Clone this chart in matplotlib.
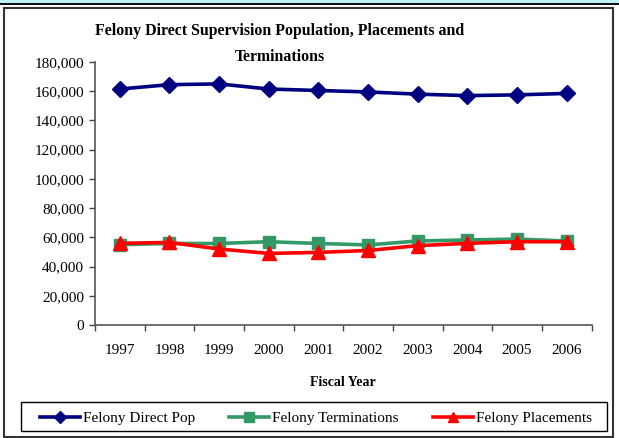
import matplotlib
matplotlib.use('Agg')
import matplotlib.pyplot as plt
from matplotlib.patches import Rectangle
from matplotlib.ticker import FuncFormatter
import numpy as np

plt.rcParams['font.family'] = ['Liberation Serif', 'DejaVu Serif']

years = ['1997', '1998', '1999', '2000', '2001', '2002', '2003', '2004', '2005', '2006']
direct_pop = [161500, 164500, 165000, 161500, 160500, 159500, 158000, 157000, 157500, 158500]
terminations = [55000, 55800, 55800, 57000, 55800, 54800, 57500, 58200, 58800, 57500]
placements = [55900, 56500, 52000, 49000, 49700, 51000, 54300, 55900, 57000, 57000]

W, H = 619, 438
fig = plt.figure(figsize=(W / 100, H / 100), dpi=100)
ax = fig.add_axes([95 / W, 1 - 325 / H, (591.5 - 95) / W, (325 - 62) / H])

x = np.arange(len(years))
ax.plot(x, direct_pop, color='#000080', lw=2.6, marker='D', ms=8, label='Felony Direct Pop')
ax.plot(x, terminations, color='#339966', lw=2.6, marker='s', ms=8.5, label='Felony Terminations')
ax.plot(x, placements, color='#ff0000', lw=2.6, marker='^', ms=9.5, label='Felony Placements')

ax.set_xlim(-0.5, len(years) - 0.5)
ax.set_ylim(0, 180000)
ax.set_yticks(np.arange(0, 180001, 20000))
ax.yaxis.set_major_formatter(FuncFormatter(lambda v, p: f'{int(v):,}'))
ax.set_xticks(x)
ax.set_xticklabels(years)
ax.set_xticks(np.arange(-0.5, len(years)), minor=True)
ax.tick_params(axis='x', which='major', length=0, labelsize=11, pad=14)
ax.tick_params(axis='x', which='minor', length=4, width=1, color='#444444')
ax.tick_params(axis='y', length=4, width=1, color='#444444', labelsize=11, pad=4)
for s in ['top', 'right']:
    ax.spines[s].set_visible(False)
for s in ['left', 'bottom']:
    ax.spines[s].set_color('#555555')
    ax.spines[s].set_linewidth(1.2)

ax.set_xlabel('Fiscal Year', fontsize=10, fontweight='bold', labelpad=13)

fig.text(280 / W, 1 - 31 / H, 'Felony Direct Supervision Population, Placements and',
         ha='center', va='center', fontsize=11.4, fontweight='bold')
fig.text(280 / W, 1 - 57 / H, 'Terminations',
         ha='center', va='center', fontsize=11.4, fontweight='bold')

# legend box drawn separately so the padding can differ per side
leg = fig.legend(loc='center', ncol=3, numpoints=1, bbox_to_anchor=(316 / W, 1 - 418 / H),
                 fontsize=11, handlelength=2.6, handletextpad=0.2, columnspacing=2.25,
                 borderpad=0, borderaxespad=0, frameon=False)
for h in leg.legend_handles:
    h.set_markersize(6.5)
fig.patches.append(Rectangle((20.5 / W, 1 - 431 / H), (607 - 20.5) / W, 29 / H,
                             transform=fig.transFigure, facecolor='none',
                             edgecolor='black', lw=1.0))

# page strip and chart frame
fig.patches.append(Rectangle((0, 1 - 3 / H), 1, 3 / H, transform=fig.transFigure,
                             facecolor='#bff2f8', edgecolor='none'))
fig.patches.append(Rectangle((0, 1 - 5 / H), 1, 2 / H, transform=fig.transFigure,
                             facecolor='#111111', edgecolor='none'))
fig.patches.append(Rectangle((3.5 / W, 1 / H), 609 / W, 429 / H, transform=fig.transFigure,
                             facecolor='none', edgecolor='#333333', lw=1.5))

fig.savefig('out.png', dpi=100)
